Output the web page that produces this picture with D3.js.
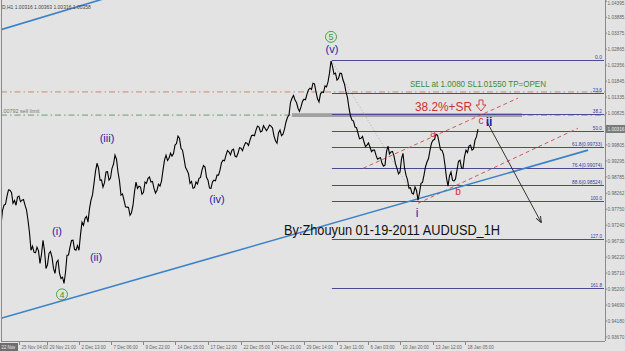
<!DOCTYPE html>
<html><head><meta charset="utf-8">
<script src="https://cdn.jsdelivr.net/npm/d3@7"></script>
<style>body{margin:0;background:#e3e3e3;overflow:hidden}svg{display:block}</style>
</head><body><svg id="c" width="625" height="351"></svg>
<script>
// ---- data (closes sampled every half bar-unit) ----
const closes = [
0.9724,0.9771,0.9788,0.9791,0.9817,0.9837,0.9836,0.9829,0.9794,0.9803,
0.9788,0.9814,0.9817,0.9799,0.9804,0.9806,0.9788,0.9773,0.9740,0.9700,
0.9644,0.9657,0.9638,0.9636,0.9654,0.9642,0.9602,0.9631,0.9676,0.9643,
0.9586,0.9598,0.9634,0.9640,0.9622,0.9586,0.9570,0.9605,0.9612,0.9571,
0.9554,0.9558,0.9538,0.9573,0.9628,0.9629,0.9654,0.9675,0.9676,0.9647,
0.9644,0.9659,0.9644,0.9694,0.9734,0.9724,0.9746,0.9752,0.9734,0.9777,
0.9804,0.9821,0.9858,0.9896,0.9922,0.9907,0.9868,0.9869,0.9846,0.9860,
0.9894,0.9895,0.9868,0.9875,0.9906,0.9919,0.9948,0.9935,0.9894,0.9865,
0.9820,0.9824,0.9804,0.9783,0.9782,0.9781,0.9756,0.9764,0.9788,0.9831,
0.9862,0.9842,0.9849,0.9846,0.9823,0.9829,0.9862,0.9858,0.9874,0.9878,
0.9862,0.9864,0.9842,0.9827,0.9836,0.9855,0.9849,0.9865,0.9900,0.9932,
0.9948,0.9931,0.9938,0.9954,0.9945,0.9953,0.9980,0.9985,1.0009,1.0002,
0.9970,0.9964,0.9938,0.9909,0.9900,0.9889,0.9858,0.9864,0.9842,0.9844,
0.9862,0.9856,0.9874,0.9877,0.9900,0.9915,0.9910,0.9877,0.9868,0.9843,
0.9842,0.9863,0.9868,0.9866,0.9884,0.9884,0.9900,0.9924,0.9932,0.9930,
0.9948,0.9963,0.9958,0.9949,0.9964,0.9967,0.9945,0.9942,0.9954,0.9972,
0.9970,0.9962,0.9977,0.9988,0.9986,0.9979,0.9996,1.0010,1.0012,1.0010,
1.0028,1.0041,1.0038,1.0022,1.0025,1.0042,1.0034,1.0026,1.0034,1.0044,
1.0041,1.0035,1.0009,0.9994,0.9986,1.0019,1.0028,1.0010,1.0015,1.0031,
1.0054,1.0069,1.0076,1.0117,1.0130,1.0139,1.0124,1.0116,1.0098,1.0088,
1.0102,1.0120,1.0127,1.0125,1.0143,1.0157,1.0162,1.0158,1.0178,1.0176,
1.0150,1.0128,1.0118,1.0144,1.0150,1.0148,1.0169,1.0166,1.0182,1.0210,
1.0249,1.0232,1.0207,1.0210,1.0188,1.0193,1.0210,1.0209,1.0188,1.0175,
1.0150,1.0132,1.0098,1.0073,1.0060,1.0057,1.0038,1.0036,1.0018,1.0000,
1.0002,1.0008,0.9990,0.9975,0.9980,0.9987,0.9974,0.9959,0.9964,0.9964,
0.9948,0.9935,0.9938,0.9940,0.9922,0.9913,0.9916,0.9959,0.9977,0.9952,
0.9958,0.9960,0.9945,0.9920,0.9906,0.9888,0.9894,0.9936,0.9954,0.9907,
0.9884,0.9869,0.9842,0.9844,0.9826,0.9824,0.9846,0.9835,0.9804,0.9827,
0.9858,0.9861,0.9884,0.9911,0.9926,0.9937,0.9964,0.9986,0.9996,0.9998,
1.0015,1.0012,0.9990,0.9965,0.9964,0.9950,0.9916,0.9875,0.9849,0.9882,
0.9894,0.9868,0.9865,0.9872,0.9900,0.9928,0.9932,0.9907,0.9906,0.9943,
0.9964,0.9956,0.9977,0.9980,0.9964,0.9968,0.9996,1.0007,1.0031
];
const priceTickLabels = ["1.04395","1.03885","1.03375","1.02865","1.02356","1.01845","1.01335","1.00825","0.99805","0.99295","0.98785","0.98262","0.97750","0.97240","0.96730","0.96220","0.95710","0.95200","0.94690","0.94180","0.93670"];
const timeTickLabels = ["25 Nov 04:00","29 Nov 21:00","2 Dec 13:00","7 Dec 06:00","9 Dec 22:00","14 Dec 15:00","17 Dec 12:00","22 Dec 05:00","24 Dec 21:00","29 Dec 14:00","3 Jan 11:00","6 Jan 03:00","10 Jan 20:00","13 Jan 12:00","18 Jan 05:00"];
const timeTickBars = [6,15.33,26,36.67,47.33,58,69,80,90.33,101,112,122.33,133,144,154.67];
const lastPrice = "1.00316";
const headerText = "D,H1  1.00316 1.00363 1.00316 1.00358";
const fibHigh = 1.0252, fibLow = 0.9801, fibStartBar = 110.3;
const fibLevels = [0, 23.6, 38.2, 50.0, 61.8, 76.4, 88.6, 100.0, 127.0, 161.8];
const fibWithPrice = [61.8, 76.4, 88.6];
const sellLimitPrice = 1.0076, stopPrice = 1.0150;
const bandBars = [97, 173.7], bandPrices = [1.0082, 1.0070];
const trendMain = [[-0.33, 0.9426], [195.7, 0.9964]];
const trendUpper = [[-0.33, 1.0348], [33, 1.0444]];
const redUpper = [[120.7, 0.9906], [172.3, 1.0130]];
const redLower = [[139, 0.9794], [192.3, 1.0034]];
const arrowLine = [[162, 1.0054], [180, 0.9734]];
const fibDiag = [[110.3, 1.0249], [138.7, 0.9801]];
const waveLabels = [
  {t:"(i)", b:18.67, p:0.9692}, {t:"(ii)", b:31.67, p:0.9609},
  {t:"(iii)", b:35.33, p:0.9990}, {t:"(iv)", b:72, p:0.9794},
  {t:"(v)", b:110.33, p:1.0274}
];
const minorLabels = [{t:"i", b:138.67, p:0.9750}, {t:"ii", b:162.67, p:1.0041}];
const abcLabels = [{t:"a", b:144, p:1.0006}, {t:"b", b:152.33, p:0.9820}, {t:"c", b:160, p:1.0047}];
const circled = [{t:"5", b:110, p:1.0326}, {t:"4", b:20.33, p:0.9503}];

// ---- scales ----
const svg = d3.select("#c");
const W = 625, H = 351, plotR = 605, plotB = 341;
const x = d3.scaleLinear().domain([0, 159]).range([1, 478]);
const y = d3.scaleLinear().domain([1.03885, 0.94180]).range([17.3, 321]);
const F = "Liberation Sans, Arial, sans-serif";

svg.append("rect").attr("width", W).attr("height", H).attr("fill", "#e3e3e3");
const defs = svg.append("defs");
defs.append("clipPath").attr("id","pc")
  .append("rect").attr("x",1).attr("y",0).attr("width",plotR-1).attr("height",plotB);
defs.append("marker").attr("id","ah").attr("viewBox","0 0 10 10")
  .attr("refX",9).attr("refY",5).attr("markerWidth",7).attr("markerHeight",7).attr("orient","auto")
  .append("path").attr("d","M0,1 L10,5 L0,9").attr("fill","none").attr("stroke","#222").attr("stroke-width",1.5);

// small squeezed text helper (mimics the terminal's narrow bitmap font)
function small(sel, str, size, perChar){
  return sel.append("text").attr("font-family",F).attr("font-size",size)
    .attr("textLength", (str.length * perChar).toFixed(1)).attr("lengthAdjust","spacingAndGlyphs").text(str);
}

const g = svg.append("g").attr("clip-path","url(#pc)");
const seg = (pts) => pts.map(d => [x(d[0]), y(d[1])]);
function extLine(pts, x0, x1){
  const [[a,b],[c,d]] = seg(pts); const m = (d-b)/(c-a);
  return [[x0, b + m*(x0-a)], [x1, b + m*(x1-a)]];
}

// dash-dot horizontal lines
g.append("line").attr("x1",1).attr("x2",plotR).attr("y1",y(stopPrice)).attr("y2",y(stopPrice))
  .attr("stroke","#c98a66").attr("stroke-width",1).attr("stroke-dasharray","6,3,1.5,3");
g.append("line").attr("x1",1).attr("x2",plotR).attr("y1",y(sellLimitPrice)).attr("y2",y(sellLimitPrice))
  .attr("stroke","#66a066").attr("stroke-width",1).attr("stroke-dasharray","6,3,1.5,3");
small(g, ".00792 sell limit", 5.5, 2.2).attr("x",2).attr("y",y(sellLimitPrice)-2).attr("fill","#777");

// gray band
g.append("rect").attr("x",x(bandBars[0])).attr("width",x(bandBars[1])-x(bandBars[0]))
  .attr("y",y(bandPrices[0])).attr("height",y(bandPrices[1])-y(bandPrices[0]))
  .attr("fill","#a0a0a0");

// fib levels
const fibX0 = x(fibStartBar);
fibLevels.forEach(l => {
  const p = fibHigh - (fibHigh - fibLow) * l / 100;
  const yy = Math.round(y(p)) + 0.5;
  g.append("line").attr("x1",fibX0).attr("x2",plotR-1).attr("y1",yy).attr("y2",yy)
    .attr("stroke","#4a4a92").attr("stroke-width",1);
  const lab = fibWithPrice.includes(l) ? `${l.toFixed(1)}(${p.toFixed(5)})` : l.toFixed(1);
  small(g, lab, 5.5, 2.3).attr("x",plotR-3).attr("y",yy-1.5).attr("text-anchor","end").attr("fill","#3a3aa0");
});

// fib diagonal
const fd = seg(fibDiag);
g.append("line").attr("x1",fd[0][0]).attr("y1",fd[0][1]).attr("x2",fd[1][0]).attr("y2",fd[1][1])
  .attr("stroke","#b0b0b0").attr("stroke-dasharray","1,2");

// red dashed channel
[redUpper, redLower].forEach(r => {
  const s = seg(r);
  g.append("line").attr("x1",s[0][0]).attr("y1",s[0][1]).attr("x2",s[1][0]).attr("y2",s[1][1])
    .attr("stroke","#cc5a5a").attr("stroke-dasharray","4,3").attr("stroke-width",1);
});

// blue trendlines
[[trendMain, 1, x(trendMain[1][0])], [trendUpper, 1, 120]].forEach(([t, a, b]) => {
  const s = extLine(t, a, b);
  g.append("line").attr("x1",s[0][0]).attr("y1",s[0][1]).attr("x2",s[1][0]).attr("y2",s[1][1])
    .attr("stroke","#3b82c8").attr("stroke-width",1.6);
});

// price line
g.append("path").datum(closes)
  .attr("d", d3.line().x((d,i) => x(i/2)).y(d => y(d)))
  .attr("fill","none").attr("stroke","#000").attr("stroke-width",1.1);

// arrow line
const al = seg(arrowLine);
g.append("line").attr("x1",al[0][0]).attr("y1",al[0][1]).attr("x2",al[1][0]).attr("y2",al[1][1])
  .attr("stroke","#222").attr("stroke-width",0.9).attr("marker-end","url(#ah)");

// labels
waveLabels.forEach(d => g.append("text").attr("x",x(d.b)).attr("y",y(d.p)).attr("text-anchor","middle")
  .attr("font-family",F).attr("font-size",11).attr("fill","#2222b0").text(d.t));
minorLabels.forEach(d => g.append("text").attr("x",x(d.b)).attr("y",y(d.p)).attr("text-anchor","middle")
  .attr("font-family",F).attr("font-size",12).attr("font-weight", d.t==="ii"?"bold":"normal").attr("fill","#2222b0").text(d.t));
abcLabels.forEach(d => g.append("text").attr("x",x(d.b)).attr("y",y(d.p)).attr("text-anchor","middle")
  .attr("font-family",F).attr("font-size",10).attr("fill","#d03030").text(d.t));
circled.forEach(d => {
  g.append("circle").attr("cx",x(d.b)).attr("cy",y(d.p)).attr("r",5.5).attr("fill","none").attr("stroke","#3a9a3a").attr("stroke-width",0.9);
  g.append("text").attr("x",x(d.b)).attr("y",y(d.p)+3.2).attr("text-anchor","middle")
    .attr("font-family",F).attr("font-size",9).attr("fill","#3a9a3a").text(d.t);
});
g.append("text").attr("x",410).attr("y",87).attr("font-family",F).attr("font-size",8.6)
  .attr("textLength",136).attr("lengthAdjust","spacingAndGlyphs")
  .attr("fill","#3a8a3a").text("SELL at 1.0080 SL1.01550 TP=OPEN");
g.append("text").attr("x",415).attr("y",111).attr("font-family",F).attr("font-size",13.5)
  .attr("textLength",57).attr("lengthAdjust","spacingAndGlyphs")
  .attr("fill","#c83232").text("38.2%+SR");
g.append("path").attr("d","M479,100 h4 v5 h3 l-5,6 l-5,-6 h3 z").attr("fill","none").attr("stroke","#c83232").attr("stroke-width",0.9);
g.append("text").attr("x",284).attr("y",235).attr("font-family",F).attr("font-size",15.5)
  .attr("textLength",216).attr("lengthAdjust","spacingAndGlyphs")
  .attr("fill","#111").text("By:Zhouyun 01-19-2011 AUDUSD_1H");
small(g, headerText, 6, 2.4).attr("x",2).attr("y",9).attr("fill","#444");

// frame & axes
svg.append("line").attr("x1",1.5).attr("x2",1.5).attr("y1",0).attr("y2",plotB).attr("stroke","#8a8a8a");
svg.append("line").attr("x1",plotR+0.5).attr("x2",plotR+0.5).attr("y1",0).attr("y2",plotB).attr("stroke","#8a8a8a");
svg.append("line").attr("x1",1).attr("x2",plotR).attr("y1",plotB+0.5).attr("y2",plotB+0.5).attr("stroke","#8a8a8a");

priceTickLabels.forEach(t => {
  const yy = y(+t);
  svg.append("line").attr("x1",plotR).attr("x2",plotR+2).attr("y1",yy).attr("y2",yy).attr("stroke","#8a8a8a");
  svg.append("text").attr("x",plotR+2.5).attr("y",Math.max(yy+1.8,5)).attr("font-family",F)
    .attr("font-size",4.7).attr("fill","#666").text(t);
});
const ly = y(+lastPrice);
svg.append("rect").attr("x",plotR+1).attr("y",ly-4).attr("width",W-plotR-1).attr("height",8).attr("fill","#7a7a7a");
svg.append("text").attr("x",plotR+2.5).attr("y",ly+1.8).attr("font-family",F)
  .attr("font-size",4.7).attr("fill","#eee").text(lastPrice);

svg.append("rect").attr("x",0).attr("y",plotB+2).attr("width",18).attr("height",8).attr("fill","#6e6e6e");
small(svg, "22 Nov", 5, 2.3).attr("x",1.5).attr("y",plotB+7.5).attr("fill","#eee");
timeTickLabels.forEach((t,i) => {
  const xx = Math.round(x(timeTickBars[i])) + 0.5;
  svg.append("line").attr("x1",xx).attr("x2",xx).attr("y1",plotB).attr("y2",plotB+4).attr("stroke","#8a8a8a");
  small(svg, t, 5.2, 2.2).attr("x",xx+2).attr("y",plotB+7.5).attr("fill","#666");
});
</script></body></html>
